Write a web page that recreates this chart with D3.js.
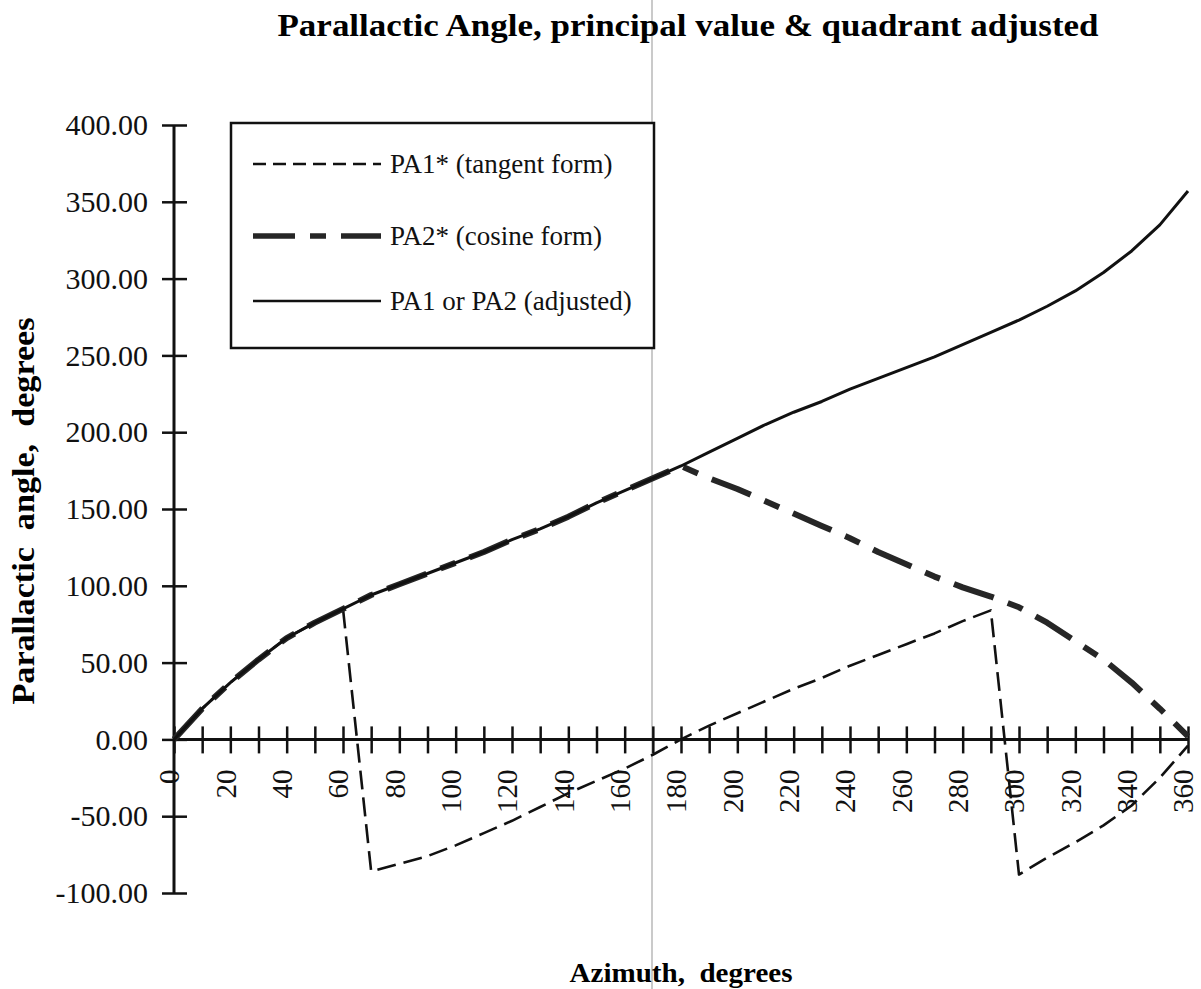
<!DOCTYPE html>
<html>
<head>
<meta charset="utf-8">
<script src="https://cdn.jsdelivr.net/npm/d3@7"></script>
<style>
  body { margin: 0; background: #fff; }
  svg { display: block; font-family: "Liberation Serif", "Times New Roman", serif; }
</style>
</head>
<body>
<div id="chart"></div>
<script>
// azimuth in degrees, one point every 10 degrees
const azimuth = d3.range(0, 361, 10);

// PA1* tangent form (principal value)
const pa1 = [0, 20, 37, 52, 66, 76, 85, -86, -81, -76, -69, -61, -53, -44, -35, -27, -19, -10,
	0, 9, 17, 25, 33, 40, 48, 55, 62, 69, 77, 84, -88, -77, -67, -56, -43, -25, -4];

// PA2* cosine form (principal value)
const pa2 = [0, 20, 37, 52, 66, 76, 85, 94, 101, 108, 115, 122, 130, 137, 145, 154, 162, 170,
	178, 170, 163, 155, 147, 139, 131, 122, 114, 106, 99, 93, 86, 76, 64, 52, 37, 20, 2];

// PA1 or PA2 after quadrant adjustment
const paAdj = [0, 20, 37, 52, 66, 76, 85, 94, 101, 108, 115, 122, 130, 137, 145, 154, 162, 170,
	178, 187, 196, 205, 213, 220, 228, 235, 242, 249, 257, 265, 273, 282, 292, 304, 318, 335, 357];

const yTicks = d3.range(-100, 401, 50);
const xTicks = d3.range(0, 361, 10);

const seriesNames = ["PA1* (tangent form)", "PA2* (cosine form)", "PA1 or PA2 (adjusted)"];

const W = 1201, H = 989;
const svg = d3.select("#chart").append("svg")
	.attr("width", W)
	.attr("height", H);

const x = d3.scaleLinear().domain([0, 360]).range([174, 1188]);
const y = d3.scaleLinear().domain([-100, 400]).range([893, 125]);

// line styles
const styles = [
	{ width: 2.6, dash: "19,8", color: "#111" },
	{ width: 6, dash: "42,15,16,15", color: "#262626" },
	{ width: 3, dash: null, color: "#111" }
];

// fold line of the scanned page
svg.append("line")
	.attr("x1", 652).attr("x2", 652)
	.attr("y1", 0).attr("y2", H)
	.attr("stroke", "#b8b8b8")
	.attr("stroke-width", 1.5);

// title
svg.append("text")
	.attr("x", 688).attr("y", 36)
	.attr("text-anchor", "middle")
	.attr("textLength", 821)
	.attr("lengthAdjust", "spacingAndGlyphs")
	.style("font-weight", "bold")
	.style("font-size", "32px")
	.text("Parallactic Angle, principal value & quadrant adjusted");

const fmt = d => d3.format(".2f")(d).replace("\u2212", "-");

// y axis
const yAxis = svg.append("g")
	.attr("transform", `translate(${x(0)},0)`)
	.call(d3.axisLeft(y).tickValues(yTicks).tickFormat(fmt).tickSize(12));
yAxis.select(".domain").attr("stroke", "#111").attr("stroke-width", 3)
	.attr("d", `M0,${y(400)}V${y(-100)}`);
yAxis.selectAll(".tick line").attr("x1", 13).attr("stroke", "#111").attr("stroke-width", 2.5);
yAxis.selectAll(".tick text")
	.attr("x", -26)
	.attr("fill", "#111")
	.style("font-size", "30px")
	.style("font-family", "Liberation Serif");

// x axis at y = 0
const xAxis = svg.append("g")
	.attr("transform", `translate(0,${y(0)})`)
	.call(d3.axisBottom(x).tickValues(xTicks).tickFormat(d => d % 20 === 0 ? d : "").tickSize(14));
xAxis.select(".domain").attr("stroke", "#111").attr("stroke-width", 3)
	.attr("d", `M${x(0)},0H${x(360)}`);
xAxis.selectAll(".tick line").attr("y1", -13).attr("stroke", "#111").attr("stroke-width", 2.5);
xAxis.selectAll(".tick text")
	.attr("transform", "rotate(-90)")
	.attr("text-anchor", "end")
	.attr("x", -30)
	.attr("y", 0)
	.attr("dy", "0.17em")
	.attr("fill", "#111")
	.style("font-size", "29px")
	.style("font-family", "Liberation Serif");

// axis titles
svg.append("text")
	.attr("transform", `translate(34,${511}) rotate(-90)`)
	.attr("text-anchor", "middle")
	.attr("textLength", 387)
	.attr("lengthAdjust", "spacingAndGlyphs")
	.style("font-weight", "bold")
	.style("font-size", "31px")
	.style("white-space", "pre")
	.text("Parallactic  angle,  degrees");

svg.append("text")
	.attr("x", 681).attr("y", 982)
	.attr("text-anchor", "middle")
	.attr("textLength", 223)
	.attr("lengthAdjust", "spacingAndGlyphs")
	.style("font-weight", "bold")
	.style("font-size", "27px")
	.style("white-space", "pre")
	.text("Azimuth,  degrees");

// series
const line = d3.line()
	.x((d, i) => x(azimuth[i]))
	.y(d => y(d));

[pa1, pa2, paAdj].forEach((vals, i) => {
	const s = styles[i];
	svg.append("path")
		.datum(vals)
		.attr("fill", "none")
		.attr("stroke", s.color)
		.attr("stroke-width", s.width)
		.attr("stroke-dasharray", s.dash)
		.attr("stroke-linejoin", "round")
		.attr("d", line);
});

// legend
const legend = svg.append("g");
legend.append("rect")
	.attr("x", 231).attr("y", 123)
	.attr("width", 423).attr("height", 225)
	.attr("fill", "#fff")
	.attr("stroke", "#111")
	.attr("stroke-width", 2.5);

const legendY = [164, 236, 301];
seriesNames.forEach((name, i) => {
	const s = styles[i];
	legend.append("line")
		.attr("x1", 253).attr("x2", 381)
		.attr("y1", legendY[i]).attr("y2", legendY[i])
		.attr("stroke", s.color)
		.attr("stroke-width", i === 1 ? 5.5 : 2.5)
		.attr("stroke-dasharray", i === 0 ? "13,7" : s.dash);
	legend.append("text")
		.attr("x", 390).attr("y", legendY[i])
		.attr("dy", "0.35em")
		.attr("fill", "#111")
		.style("font-size", "27px")
		.text(name);
});
</script>
</body>
</html>
